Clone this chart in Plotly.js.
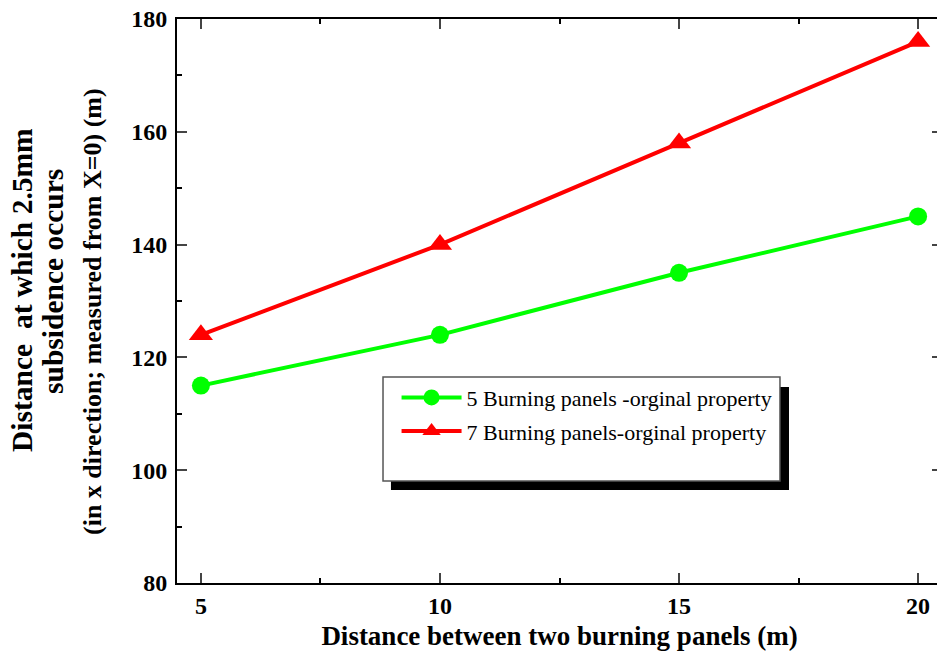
<!DOCTYPE html>
<html>
<head>
<meta charset="utf-8">
<script src="https://cdn.plot.ly/plotly-3.0.1.min.js"></script>
<style>html,body{margin:0;padding:0;overflow:hidden;background:#fff;}#chart{width:945px;height:662px;}</style>
</head>
<body>
<div id="chart"></div>
<script>
var xValues = [5, 10, 15, 20];
var fivePanels = [115, 124, 135, 145];
var sevenPanels = [124, 140, 158, 176];
var seriesNames = ["5 Burning panels -orginal property", "7 Burning panels-orginal property"];
var xTickVals = [5, 10, 15, 20];
var yTickVals = [80, 100, 120, 140, 160, 180];
var yTitleLines = ["Distance &nbsp;at which 2.5mm", "subsidence occurs", "(in x direction; measured from X=0) (m)"];
var xTitle = "Distance between two burning panels (m)";

var FONT = "Liberation Serif";

var traces = [
  {x: xValues, y: fivePanels, name: seriesNames[0], type: "scatter", mode: "lines+markers",
   legendgroup: "a",
   line: {color: "#00ff00", width: 4}, marker: {symbol: "circle", size: 18, color: "#00ff00"}},
  {x: xValues, y: sevenPanels, name: seriesNames[1], type: "scatter", mode: "lines+markers",
   legendgroup: "b",
   line: {color: "#ff0000", width: 4}, marker: {symbol: "triangle-up", size: 21, color: "#ff0000"}}
];

var annXs = [-155, -124, -85];
var annYs = [11, 19, -11];
var annSizes = [29.5, 29.5, 26];
var annotations = yTitleLines.map(function (t, i) {
  return {text: t, xref: "paper", yref: "paper", x: 0, y: 0.5,
    xshift: annXs[i], yshift: annYs[i], textangle: -90, showarrow: false,
    xanchor: "center", yanchor: "middle", font: {family: FONT, size: annSizes[i], weight: "bold", color: "#000"}};
});

var layout = {
  width: 945, height: 662,
  margin: {l: 177, r: 3, t: 19, b: 79},
  paper_bgcolor: "#fff", plot_bgcolor: "#fff",
  showlegend: true,
  legend: {x: 0.287, y: 0.366, xanchor: "left", yanchor: "top", bgcolor: "rgba(0,0,0,0)",
    borderwidth: 0, font: {family: FONT, size: 22, color: "#000"},
    traceorder: "grouped", tracegroupgap: 2, itemwidth: 60},
  xaxis: {range: [4.5, 20.5], tickvals: xTickVals, ticks: "inside", ticklen: 10, tickwidth: 2,
    minor: {dtick: 2.5, tick0: 0, ticks: "inside", ticklen: 5, tickwidth: 2, tickcolor: "#000"},
    showline: true, linewidth: 2, linecolor: "#000", mirror: "ticks", showgrid: false, zeroline: false,
    tickfont: {family: FONT, size: 24, weight: "bold", color: "#000"},
    title: {text: xTitle, font: {family: FONT, size: 27, weight: "bold", color: "#000"}, standoff: 8}},
  yaxis: {range: [80, 180], tickvals: yTickVals, ticks: "inside", ticklen: 10, tickwidth: 2,
    minor: {dtick: 10, tick0: 0, ticks: "inside", ticklen: 5, tickwidth: 2, tickcolor: "#000"},
    showline: true, linewidth: 2, linecolor: "#000", mirror: "ticks", showgrid: false, zeroline: false,
    ticklabelstandoff: 3,
    tickfont: {family: FONT, size: 24, weight: "bold", color: "#000"}},
  shapes: [
    {type: "rect", xref: "paper", yref: "paper", x0: 0.2797, x1: 0.800, y0: 0.1649, y1: 0.3475,
     fillcolor: "#000", line: {width: 0}, layer: "above"},
    {type: "rect", xref: "paper", yref: "paper", x0: 0.2693, x1: 0.7882, y0: 0.1809, y1: 0.3652,
     fillcolor: "#fff", line: {width: 1.5, color: "#555"}, layer: "above"}
  ],
  annotations: annotations
};

Plotly.newPlot("chart", traces, layout, {displayModeBar: false, staticPlot: true});
</script>
</body>
</html>
